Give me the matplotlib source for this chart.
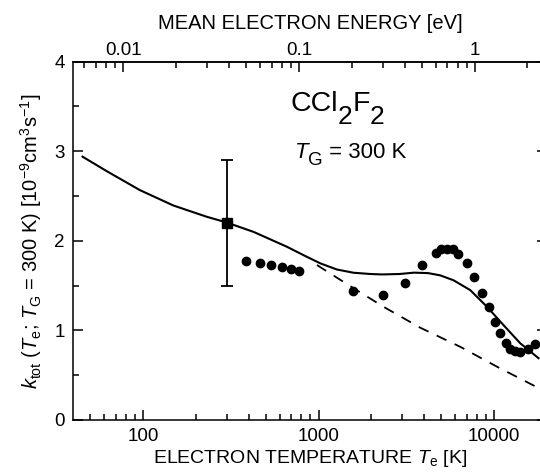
import numpy as np
import matplotlib
matplotlib.use("Agg")
import matplotlib.pyplot as plt

plt.rcParams['font.family'] = ['Liberation Sans', 'DejaVu Sans']
plt.rcParams['mathtext.fontset'] = 'custom'
plt.rcParams['mathtext.rm'] = 'Liberation Sans'
plt.rcParams['mathtext.it'] = 'Liberation Sans:italic'

# fitted total rate coefficient (solid line)
fit_T = [45.3, 62, 96, 149, 230, 300, 427, 661, 822, 1023, 1273, 1583, 1968,
         2300, 2900, 3500, 4200, 4930, 5870, 7310, 9100, 11300, 14090, 17900]
fit_k = [2.94, 2.78, 2.567, 2.395, 2.27, 2.205, 2.10, 1.934, 1.84, 1.749, 1.68,
         1.644, 1.63, 1.625, 1.63, 1.645, 1.64, 1.615, 1.56, 1.45, 1.265, 1.06,
         0.856, 0.69]

# low-energy extrapolation (dashed)
ext_T = [980, 1500, 2340, 3800, 6400, 10500, 17900]
ext_k = [1.73, 1.50, 1.265, 1.03, 0.818, 0.59, 0.357]

# measured points
meas_T = [386, 466, 538, 619, 697, 773, 1563, 2330, 3090, 3880, 4640, 5000,
          5390, 5820, 6220, 7000, 7730, 8520, 9300, 10050, 10830, 11670,
          12370, 13190, 13960, 15500, 17140]
meas_k = [1.775, 1.749, 1.730, 1.711, 1.685, 1.66, 1.443, 1.395, 1.532, 1.726,
          1.86, 1.908, 1.912, 1.905, 1.853, 1.749, 1.596, 1.421, 1.265, 1.097,
          0.974, 0.863, 0.796, 0.773, 0.762, 0.792, 0.848]

# thermal value at 300 K
th_T = 300
th_k = 2.2
th_err = 0.7

kB = 8.617e-5


def t2e(T):
    return 1.5 * kB * np.asarray(T)


def e2t(E):
    return np.asarray(E) / (1.5 * kB)


def chain_text(ax, x, y, parts):
    # parts: (string, fontsize, vertical shift in points, style)
    prev = None
    for s, size, dy, style in parts:
        if prev is None:
            prev = ax.text(x, y, s, transform=ax.transAxes, fontsize=size,
                           style=style, va='bottom')
            base = 0
        else:
            prev = ax.annotate(s, xy=(1, 0), xycoords=prev, xytext=(0, dy - base),
                               textcoords='offset points', fontsize=size,
                               style=style, va='bottom')
            base = dy
    return prev


fig = plt.figure(figsize=(5.4, 4.72), dpi=100)
ax = fig.add_axes([73 / 540, 52 / 472, 474 / 540, 358.3 / 472])

ax.plot(fit_T, fit_k, '-', color='black', lw=1.5)
ax.plot(ext_T, ext_k, '--', color='black', lw=1.3, dashes=(6, 5))
ax.plot(meas_T, meas_k, 'o', color='black', ms=6)
ax.errorbar(th_T, th_k, yerr=th_err, fmt='s', color='black', ms=7,
            capsize=4.5, elinewidth=1.3, capthick=1.3)

ax.set_xscale('log')
ax.set_xlim(40, 20000)
ax.set_ylim(0, 4)

ax.set_xticks([100, 1000, 10000], labels=['100', '1000', '10000'])
minor_T = [m * d for d in (10, 100, 1000, 10000) for m in range(2, 10)]
ax.set_xticks([t for t in minor_T if 40 < t < 20000], minor=True)
ax.set_yticks([0, 1, 2, 3, 4])
ax.set_yticks([0.5, 1.5, 2.5, 3.5], minor=True)

ax.tick_params(which='both', direction='in', right=True, labelsize=13.5, width=1.1)
ax.tick_params(which='major', length=7)
ax.tick_params(which='minor', length=4)
ax.tick_params(axis='x', pad=6)
ax.tick_params(axis='y', pad=6)
for s in ax.spines.values():
    s.set_linewidth(1.1)

ax.set_xlabel(r'ELECTRON TEMPERATURE $T_{\rm e}$ [K]', fontsize=14, labelpad=2)
ax.set_ylabel(r'$k_{\rm tot}$ ($T_{\rm e}$; $T_{\rm G}$ = 300 K) [10$^{-9}$cm$^3$s$^{-1}$]',
              fontsize=14.5, labelpad=7)

top = ax.secondary_xaxis('top', functions=(t2e, e2t))
top.set_xticks([0.01, 0.1, 1], labels=['0.01', '0.1', '1'])
minor_E = [m * d for d in (0.001, 0.01, 0.1, 1) for m in range(2, 10)]
top.set_xticks([e for e in minor_E if 0.0052 < e < 2.6], minor=True)
top.tick_params(which='both', direction='in', labelsize=13.5, width=1.1, pad=2)
top.tick_params(which='major', length=7)
top.tick_params(which='minor', length=4)
top.spines['top'].set_linewidth(1.1)
top.set_xlabel('MEAN ELECTRON ENERGY [eV]', fontsize=14.5, labelpad=9)

chain_text(ax, 0.458, 0.845, [('CCl', 20.5, 0, 'normal'),
                              ('2', 19, -8.5, 'normal'),
                              ('F', 20.5, 0, 'normal'),
                              ('2', 19, -8.5, 'normal')])
chain_text(ax, 0.468, 0.717, [('T', 16, 0, 'italic'),
                              ('G', 13.5, -4.5, 'normal'),
                              (' = 300 K', 16, 0, 'normal')])

fig.savefig('out.png', dpi=100)
